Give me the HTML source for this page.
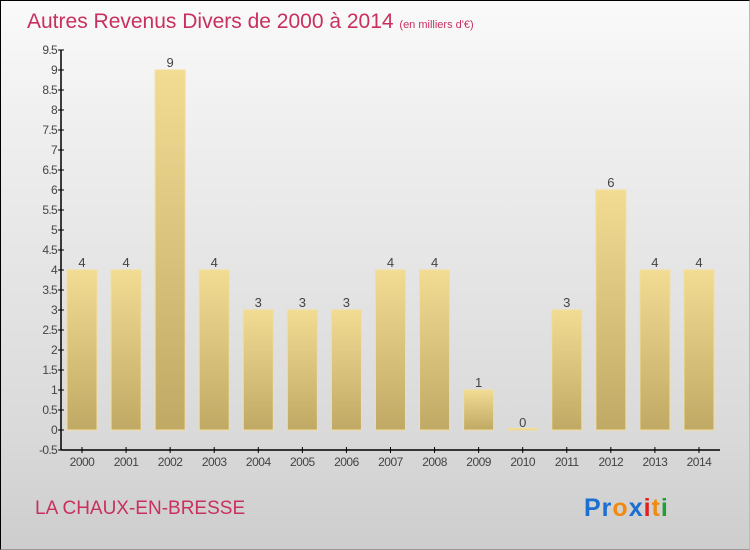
<!DOCTYPE html>
<html><head><meta charset="utf-8"><style>
html,body{margin:0;padding:0}
#c{width:750px;height:550px;position:relative;overflow:hidden;box-sizing:border-box;border-left:1px solid #000;border-top:1px solid #000;border-right:1px solid #bbb;border-bottom:1px solid #999;background:linear-gradient(#fafafa,#f0f0f0 20%,#d9d9d9 80%,#cdcdcd);font-family:"Liberation Sans",sans-serif}
</style></head><body>
<div id="c">
<svg width="750" height="550" style="position:absolute;left:-1px;top:-1px">
<defs>
<linearGradient id="bg" x1="0" y1="0" x2="0" y2="1"><stop offset="0" stop-color="#f2dc94"/><stop offset="1" stop-color="#c0a964"/></linearGradient>
</defs>
<text x="27" y="28" font-size="21" fill="#c8305e">Autres Revenus Divers de 2000 à 2014 <tspan font-size="11">(en milliers d'€)</tspan></text>
<text x="35" y="514" font-size="19" fill="#c8305e">LA CHAUX-EN-BRESSE</text>
<g id="yax"></g>
<g id="xax"></g>
<g id="bars"></g>
<text x="584" y="516" font-size="25" font-weight="bold" letter-spacing="1"><tspan fill="#1a6fd0">Pr</tspan><tspan fill="#f08a10">o</tspan><tspan fill="#1a6fd0">x</tspan><tspan fill="#e02020">i</tspan><tspan fill="#f08a10">t</tspan><tspan fill="#20a030">i</tspan></text>
</svg>
</div>
<script>
const years=["2000","2001","2002","2003","2004","2005","2006","2007","2008","2009","2010","2011","2012","2013","2014"];
const values=[4,4,9,4,3,3,3,4,4,1,0,3,6,4,4];
const yTicks=[-0.5,0,0.5,1,1.5,2,2.5,3,3.5,4,4.5,5,5.5,6,6.5,7,7.5,8,8.5,9,9.5];
const NS="http://www.w3.org/2000/svg";
function y(v){return 430-v*40;}
function x(i){return 82+i*44.07;}
function mk(tag,attrs,parent,txt){const e=document.createElementNS(NS,tag);for(const k in attrs)e.setAttribute(k,attrs[k]);if(txt!==undefined)e.textContent=txt;parent.appendChild(e);return e;}
const ya=document.getElementById('yax'),xa=document.getElementById('xax'),bg=document.getElementById('bars');
let l=mk('line',{x1:61,y1:y(9.5),x2:61,y2:y(-0.5),stroke:'#000','stroke-width':1.5},ya);


yTicks.forEach(t=>{
 const tk=mk('line',{x1:58,y1:y(t),x2:64,y2:y(t),stroke:'#000'},ya);
 
 
 const tl=mk('text',{x:57,y:y(t)+4,'text-anchor':'end','font-size':12,fill:'#444','letter-spacing':'-0.7'},ya,String(t));
 
 
});
l=mk('line',{x1:61,y1:450,x2:720,y2:450,stroke:'#000','stroke-width':1.5},xa);


years.forEach((yr,i)=>{
 const tk=mk('line',{x1:x(i),y1:447,x2:x(i),y2:453,stroke:'#000'},xa);
 
 
 const tl=mk('text',{x:x(i),y:466,'text-anchor':'middle','font-size':12,fill:'#444','letter-spacing':'-0.5'},xa,yr);
 
 
 const v=values[i];
 const top=y(v),h=Math.max(y(0)-top,1.5);
 const r=mk('rect',{x:x(i)-15,y:v>0?top:y(0)-1.5,width:30,height:h,fill:v>0?'url(#bg)':'#e8cf80',stroke:'#f3df9a','stroke-width':1},bg);
 
 
 const vl=mk('text',{x:x(i),y:(v>0?top:y(0))-3,'text-anchor':'middle','font-size':13,fill:'#444'},bg,String(v));
 
 
});
</script>
</body></html>
